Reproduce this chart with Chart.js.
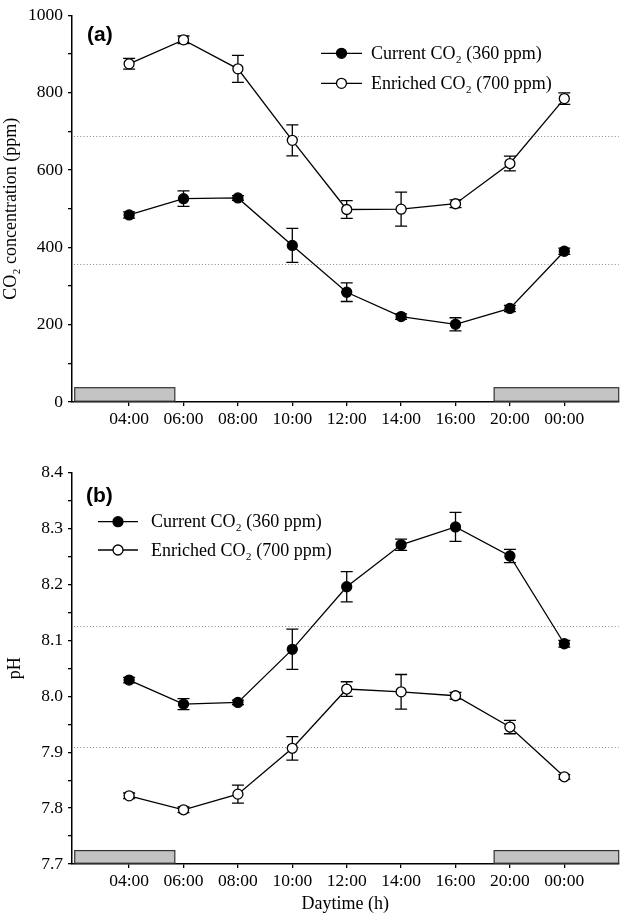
<!DOCTYPE html>
<html><head><meta charset="utf-8">
<script src="https://cdn.jsdelivr.net/npm/chart.js@4"></script>
<style>
html,body{margin:0;padding:0;background:#fff;width:625px;height:917px;overflow:hidden}
.box{position:absolute;left:0;width:625px}
</style></head><body>
<div class="box" style="top:0;height:445px"><canvas id="c1" width="625" height="445"></canvas></div>
<div class="box" style="top:450px;height:467px"><canvas id="c2" width="625" height="467"></canvas></div>
<script>
const timeLabels = ['04:00','06:00','08:00','10:00','12:00','14:00','16:00','20:00','00:00'];
const timePos = [1,2,3,4,5,6,7,8,9];
const co2Current = [484,526,528,405,284,221,201,242,390];
const co2CurrentErr = [8,20,6,44,24,7,17,8,8];
const co2Enriched = [875,937,862,677,498,499,513,617,785];
const co2EnrichedErr = [14,10,35,40,23,44,10,19,15];
const phCurrent = [8.029,7.986,7.989,8.084,8.196,8.271,8.303,8.251,8.094];
const phCurrentErr = [0.005,0.01,0.004,0.036,0.027,0.01,0.026,0.012,0.006];
const phEnriched = [7.822,7.797,7.825,7.907,8.013,8.008,8.001,7.945,7.856];
const phEnrichedErr = [0.005,0.005,0.016,0.021,0.013,0.031,0.006,0.012,0.004];
const seriesNames = ['Current CO\u2082 (360 ppm)','Enriched CO\u2082 (700 ppm)'];
const co2RefLines = [688,356];
const phRefLines = [8.126,7.910];
const nightSpans = [[0,1.84],[7.71,10]];
const co2NightTop = 37;
const phNightTop = 7.724;

const SERIF = '"Liberation Serif","Times New Roman",serif';

const decor = {
  id:'decor',
  beforeDatasetsDraw(chart, args, o){
    const ctx = chart.ctx, xs = chart.scales.x, ys = chart.scales.y, ca = chart.chartArea;
    ctx.save();
    // night bars
    ctx.fillStyle = '#c3c3c3'; ctx.strokeStyle = '#333'; ctx.lineWidth = 1.2;
    nightSpans.forEach(([a,b])=>{
      const x0 = xs.getPixelForValue(a), x1 = xs.getPixelForValue(b);
      const y0 = ys.getPixelForValue(o.nightTop), y1 = ys.getPixelForValue(ys.min) - 0.8;
      ctx.fillRect(x0,y0,x1-x0,y1-y0);
      ctx.strokeRect(x0,y0,x1-x0,y1-y0);
    });
    // reference dotted lines
    ctx.strokeStyle = '#888'; ctx.lineWidth = 1; ctx.setLineDash([1,2.2]);
    o.refLines.forEach(v=>{
      const y = Math.round(ys.getPixelForValue(v))+0.5;
      ctx.beginPath(); ctx.moveTo(ca.left+2,y); ctx.lineTo(ca.right,y); ctx.stroke();
    });
    ctx.setLineDash([]);
    // error bars
    ctx.strokeStyle = '#000'; ctx.lineWidth = 1.3;
    chart.data.datasets.forEach((ds,di)=>{
      const errs = o.errors[di];
      ds.data.forEach((p,i)=>{
        const x = xs.getPixelForValue(p.x);
        const yt = ys.getPixelForValue(p.y + errs[i]);
        const yb = ys.getPixelForValue(p.y - errs[i]);
        ctx.beginPath();
        ctx.moveTo(x,yt); ctx.lineTo(x,yb);
        ctx.moveTo(x-6,yt); ctx.lineTo(x+6,yt);
        ctx.moveTo(x-6,yb); ctx.lineTo(x+6,yb);
        ctx.stroke();
      });
    });
    ctx.restore();
  },
  afterDraw(chart, args, o){
    const ctx = chart.ctx;
    ctx.save();
    ctx.fillStyle = '#000';
    ctx.font = 'bold 21px "Liberation Sans",Arial,sans-serif';
    ctx.textAlign = 'left'; ctx.textBaseline = 'middle';
    ctx.fillText(o.letter, o.letterX, o.letterY);
    const L = o.legend;
    chart.data.datasets.forEach((ds,di)=>{
      const y = L.ys[di];
      ctx.strokeStyle = '#000'; ctx.lineWidth = 1.3;
      ctx.beginPath(); ctx.moveTo(L.x0,y); ctx.lineTo(L.x1,y); ctx.stroke();
      ctx.beginPath(); ctx.arc((L.x0+L.x1)/2, y, 5, 0, Math.PI*2);
      ctx.fillStyle = ds.pointBackgroundColor; ctx.fill(); ctx.stroke();
      ctx.fillStyle = '#000';
      ctx.font = '18px ' + SERIF;
      ctx.textAlign = 'left'; ctx.textBaseline = 'middle';
      ctx.fillText(ds.label, L.tx, y+1);
    });
    ctx.restore();
  }
};

function makeDatasets(a, b){
  const common = {showLine:true, borderColor:'#000', borderWidth:1.3, pointRadius:5, pointHoverRadius:5,
    pointBorderColor:'#000', pointBorderWidth:1.3, tension:0, clip:false};
  return [
    Object.assign({label:seriesNames[0], data: timePos.map((x,i)=>({x, y:a[i]})), pointBackgroundColor:'#000'}, common),
    Object.assign({label:seriesNames[1], data: timePos.map((x,i)=>({x, y:b[i]})), pointBackgroundColor:'#fff'}, common)
  ];
}

function axisCommon(){
  return {
    grid:{display:true, drawOnChartArea:false, drawTicks:true, tickLength:4, color:'#000', lineWidth:1.3},
    border:{display:true, color:'#000', width:1.5},
  };
}

function makeChart(id, cfg){
  return new Chart(document.getElementById(id), {
    type:'scatter',
    data:{datasets: makeDatasets(cfg.a, cfg.b)},
    options:{
      responsive:false, animation:false, devicePixelRatio:1,
      layout:{padding:{top:cfg.padTop, right:3.6, left:0, bottom:0}},
      plugins:{legend:{display:false}, tooltip:{enabled:false},
        decor:{refLines:cfg.refLines, errors:cfg.errors, nightTop:cfg.nightTop, letter:cfg.letter,
          letterX:cfg.letterX, letterY:cfg.letterY, legend:cfg.legend}},
      scales:{
        x: Object.assign(axisCommon(), {
          type:'linear', min:-0.05, max:10,
          afterBuildTicks: s => { s.ticks = timePos.map(v=>({value:v})); },
          afterFit: s => { s.height = cfg.xHeight; },
          ticks:{color:'#000', font:{family:SERIF, size:17.5}, padding:3, maxRotation:0, autoSkip:false,
            callback: v => timeLabels[timePos.indexOf(v)]},
          title: cfg.xTitle ? {display:true, text:cfg.xTitle, color:'#000', font:{family:SERIF, size:18}, padding:{top:0,bottom:2}} : {display:false}
        }),
        y: Object.assign(axisCommon(), {
          type:'linear', min:cfg.yMin, max:cfg.yMax,
          afterFit: s => { s.width = 72; },
          ticks:{color:'#000', font:{family:SERIF, size:17.5}, padding:5, stepSize:cfg.step, autoSkip:false,
            callback: cfg.tickFmt},
          title:{display:true, text:cfg.yTitle, color:'#000', font:{family:SERIF, size:18}, padding:{top:cfg.yTitlePad, bottom:0}}
        })
      }
    },
    plugins:[decor]
  });
}

makeChart('c1', {
  a:co2Current, b:co2Enriched, errors:[co2CurrentErr, co2EnrichedErr],
  refLines:co2RefLines, nightTop:co2NightTop, padTop:10, xHeight:43,
  yMin:0, yMax:1000, step:100, tickFmt: v => (Math.round(v)%200===0 ? String(Math.round(v)) : ''),
  yTitle:'CO\u2082 concentration (ppm)', yTitlePad:0, xTitle:null,
  letter:'(a)', letterX:87, letterY:35,
  legend:{x0:321, x1:362, tx:371, ys:[53.3, 83.3]}
});
makeChart('c2', {
  a:phCurrent, b:phEnriched, errors:[phCurrentErr, phEnrichedErr],
  refLines:phRefLines, nightTop:phNightTop, padTop:22.7, xHeight:53,
  yMin:7.7, yMax:8.4, step:0.05, tickFmt: v => (Math.round(v*100)%10===0 ? v.toFixed(1) : ''),
  yTitle:'pH', yTitlePad:4, xTitle:'Daytime (h)',
  letter:'(b)', letterX:86, letterY:46.5,
  legend:{x0:98, x1:138, tx:151, ys:[71.7, 100]}
});
</script>
</body></html>
